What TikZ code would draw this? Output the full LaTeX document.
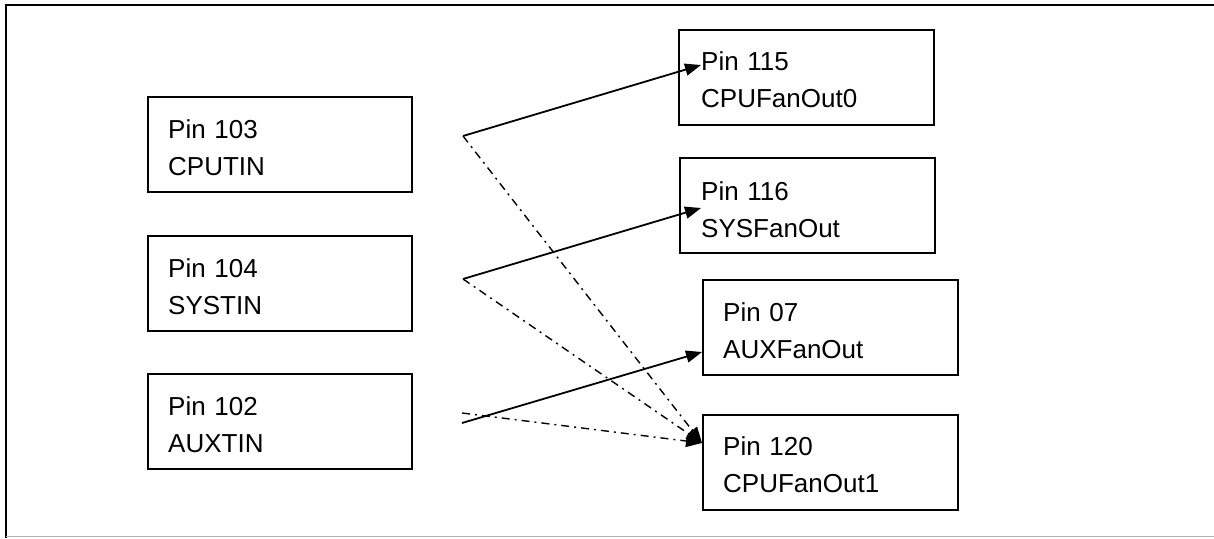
\documentclass[tikz,border=0pt]{standalone}
\usepackage{fontspec}
\setmainfont{Liberation Sans}
\usetikzlibrary{arrows.meta,calc}
\tikzset{
  pinbox/.style={draw, line width=1.8pt, rectangle, anchor=north west, inner sep=0pt, minimum height=95pt},
  leftbox/.style={pinbox, minimum width=264pt},
  rightbox/.style={pinbox, minimum width=255pt},
  pintext/.style={anchor=base west, inner sep=0pt, text width=190pt, align=left,
    font=\fontsize{26pt}{37pt}\selectfont},
  solidlink/.style={line width=1.8pt, -{Triangle[length=16pt,width=12pt]}},
  dashlink/.style={line width=1.4pt, dash pattern=on 8pt off 5pt on 2pt off 5pt, -{Triangle[length=16pt,width=12pt]}},
}
\begin{document}
\begin{tikzpicture}[x=1pt,y=-1pt]
\useasboundingbox (0,0) rectangle (1214,538);
% frame
\draw[line width=2pt] (1214,5) -- (6,5) -- (6,538);
\draw[line width=1.5pt, gray!60] (6,536.5) -- (1214,536.5);
% left boxes
\node[leftbox] (b103) at (147,96) {};
\node[leftbox] (b104) at (147,235) {};
\node[leftbox] (b102) at (147,373) {};
\node[pintext] (t103) at ($(b103.north west)+(21,42)$) {Pin 103\\CPUTIN};
\node[pintext] (t104) at ($(b104.north west)+(21,42)$) {Pin 104\\SYSTIN};
\node[pintext] (t102) at ($(b102.north west)+(21,42)$) {Pin 102\\AUXTIN};
% right boxes
\node[rightbox] (b115) at (678,29) {};
\node[rightbox] (b116) at (679,157) {};
\node[rightbox] (b07) at (702,279) {};
\node[rightbox] (b120) at (702,414) {};
\node[pintext] (t115) at ($(b115.north west)+(23,41)$) {Pin 115\\CPUFanOut0};
\node[pintext] (t116) at ($(b116.north west)+(22,43)$) {Pin 116\\SYSFanOut};
\node[pintext] (t07) at ($(b07.north west)+(21,42)$) {Pin 07\\AUXFanOut};
\node[pintext] (t120) at ($(b120.north west)+(21,41)$) {Pin 120\\CPUFanOut1};
% connector ends
\coordinate (s1) at (463,136);
\coordinate (s2) at (463,279);
\coordinate (s3a) at (462,423);
\coordinate (s3b) at (462,413);
\coordinate (pA) at ($(b115.north west)+(23,36)$);
\coordinate (pB) at ($(b116.north west)+(22,51)$);
\coordinate (pC) at ($(b07.north west)+(0,73)$);
\coordinate (pD) at ($(b120.north west)+(0,29)$);
% connectors
\draw[solidlink] (s1) -- (pA);
\draw[solidlink] (s2) -- (pB);
\draw[solidlink] (s3a) -- (pC);
\draw[dashlink] (s1) -- (pD);
\draw[dashlink] (s2) -- (pD);
\draw[dashlink] (s3b) -- (pD);
\end{tikzpicture}
\end{document}
